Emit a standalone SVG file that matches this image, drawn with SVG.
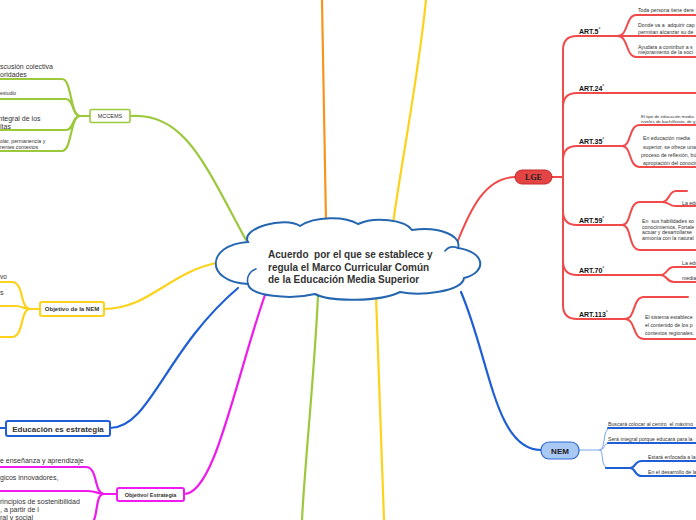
<svg xmlns="http://www.w3.org/2000/svg" width="696" height="520" viewBox="0 0 696 520">
<style>
text{font-family:"Liberation Sans",Arial,sans-serif;white-space:pre;fill:#333}
.c{fill:none;stroke-linecap:round;stroke-linejoin:round}
.r{stroke:#f04a4a;stroke-width:2}
.g{stroke:#9cc83c;stroke-width:2.2}
.y{stroke:#fdd21a;stroke-width:2.2}
.o{stroke:#f7941d;stroke-width:2.2}
.b{stroke:#1f5fd6;stroke-width:2.2}
.bt{stroke:#7aa7ec;stroke-width:1}
.m{stroke:#ee1aee;stroke-width:2.2}
.art{font-size:7px;font-weight:bold;fill:#111}
.deg{font-size:5px;font-weight:bold;fill:#111}
.s{font-size:5.2px}
.xs{font-size:4.4px}
.l7{font-size:7px}
</style>
<g id="connectors">
<path class="c o" d="M322,0 C323,80 325,160 326,222"/>
<path class="c y" d="M426,0 C418,80 400,170 393,224"/>
<path class="c r" d="M457,243 C470,210 485,177 516,177"/>
<path class="c g" d="M130,116 C185,112 205,165 246,240"/>
<path class="c y" d="M104,309 C150,309 170,270 222,262"/>
<path class="c b" d="M110,428 C150,428 165,350 238,288"/>
<path class="c m" d="M184,494 C215,494 235,380 266,292"/>
<path class="c g" d="M318,296 C314,380 305,460 302,520"/>
<path class="c y" d="M376,296 C379,380 382,460 384,520"/>
<path class="c b" d="M461,292 C490,360 495,450 541,450"/>
<!-- LGE tree -->
<path class="c r" d="M552,177 L563,177"/>
<path class="c r" d="M563,177 L563,50 Q563,36 577,36 L696,36"/>
<path class="c r" d="M618,36 C628,36 626,15 636,15 L696,15"/>
<path class="c r" d="M618,36 C628,36 626,57 636,57 L696,57"/>
<path class="c r" d="M563,177 L563,107 Q563,93 577,93 L696,93"/>
<path class="c r" d="M563,177 L563,160 Q563,146 577,146 L622,146"/>
<path class="c r" d="M622,146 C632,146 628,125 640,125 L696,125"/>
<path class="c r" d="M622,146 C632,146 628,167 640,167 L696,167"/>
<path class="c r" d="M563,177 L563,211 Q563,225 577,225 L622,225"/>
<path class="c r" d="M622,225 C632,225 628,202 640,202 L662,202"/>
<path class="c r" d="M662,202 C670,202 668,191 676,191 L687,191"/>
<path class="c r" d="M662,202 C670,202 668,206 676,206 L696,206"/>
<path class="c r" d="M622,225 C632,225 628,250 640,250 L696,250"/>
<path class="c r" d="M563,177 L563,261 Q563,275 577,275 L660,275"/>
<path class="c r" d="M660,275 C668,275 666,267 674,267 L696,267"/>
<path class="c r" d="M660,275 C668,275 666,282 674,282 L696,282"/>
<path class="c r" d="M563,177 L563,305 Q563,319 577,319 L625,319"/>
<path class="c r" d="M625,319 C636,319 632,297 644,297 L688,297"/>
<path class="c r" d="M625,319 C636,319 632,339 644,339 L696,339"/>
<!-- MCCEMS tree -->
<path class="c g" d="M90,116 L80,116"/>
<path class="c g" d="M80,116 C70,116 72,79 62,79 L0,79"/>
<path class="c g" d="M80,116 C72,116 74,99 66,99 L0,99"/>
<path class="c g" d="M80,116 C72,116 74,130 66,130 L0,130"/>
<path class="c g" d="M80,116 C70,116 72,151 62,151 L0,151"/>
<!-- Objetivo de la NEM tree -->
<path class="c y" d="M40,309 L30,309"/>
<path class="c y" d="M30,309 C20,309 24,282 12,282 L0,282"/>
<path class="c y" d="M30,309 C24,309 22,306 16,306 L0,306"/>
<path class="c y" d="M30,309 C20,309 24,337 12,337 L0,337"/>
<path class="c b" d="M0,428 L6,428"/>
<!-- Objetivo/Estrategia tree -->
<path class="c m" d="M117,494 L104,494"/>
<path class="c m" d="M104,494 C94,494 98,467 86,467 L0,467"/>
<path class="c m" d="M104,494 C98,494 96,491 88,491 L0,491"/>
<path class="c m" d="M104,494 C96,494 98,510 94,520"/>
<!-- NEM tree -->
<path class="c bt" d="M579,450 L600,450"/>
<path class="c bt" d="M600,450 C606,450 602,428 610,428"/>
<path class="c bt" d="M600,450 C606,450 602,443 610,443"/>
<path class="c bt" d="M600,450 C604,450 600,468 608,468"/>
<path class="c b" d="M608,428 L696,428"/>
<path class="c b" d="M608,443 L696,443"/>
<path class="c b" d="M606,468 L630,468"/>
<path class="c b" d="M630,468 C636,468 634,461 642,461 L696,461"/>
<path class="c b" d="M630,468 C636,468 634,476 642,476 L696,476"/>
</g>
<g id="center">
<path d="M248,242 C240,228 285,216 300,226 C315,216 345,216 358,224 C375,216 405,220 412,230 C440,226 462,236 458,248 C485,252 488,272 464,278 C462,292 420,296 400,292 C380,302 330,302 315,294 C290,300 250,296 248,284 C205,282 205,245 248,242 Z" fill="#fff" stroke="#2566b0" stroke-width="2"/>
<path d="M248,284 C246,277 250,271 256,269" fill="none" stroke="#2566b0" stroke-width="1.6" stroke-linecap="round"/>
<path d="M458,248 C453,246 448,247 445,251" fill="none" stroke="#2566b0" stroke-width="1.6" stroke-linecap="round"/>
<text x="268" y="258" font-size="10" font-weight="bold" fill="#4d4d4d">Acuerdo  por el que se establece y</text>
<text x="268" y="270.5" font-size="10" font-weight="bold" fill="#4d4d4d">regula el Marco Curricular Común</text>
<text x="268" y="283" font-size="10" font-weight="bold" fill="#4d4d4d">de la Educación Media Superior</text>
</g>
<g id="lge">
<rect x="515" y="170" width="37" height="14" rx="7" fill="#e44444" stroke="#c42a2a" stroke-width="1"/>
<text x="533.5" y="180" font-size="8" font-weight="bold" text-anchor="middle" style="fill:#222;font-family:'Liberation Serif',serif">LGE</text>
</g>
<g id="art5">
<text x="579" y="33.5" class="art">ART.5<tspan class="deg" dy="-3">°</tspan></text>
<text x="638" y="11.5" class="s">Toda persona tiene dere</text>
<text x="638" y="27" class="s">Donde va a  adquirir cap</text>
<text x="638" y="33.5" class="s">permitan alcanzar su de</text>
<text x="638" y="48.5" class="s">Ayudara a contribuir a s</text>
<text x="638" y="54" class="s">mejoramiento de la soci</text>
</g>
<g id="art24"><text x="579" y="90.5" class="art">ART.24<tspan class="deg" dy="-3">°</tspan></text></g>
<g id="art35">
<text x="579" y="143.5" class="art">ART.35<tspan class="deg" dy="-3">°</tspan></text>
<text x="641" y="118" class="xs">El tipo de educación media</text>
<text x="641" y="122.5" class="xs">niveles de bachillerato, de g</text>
<text x="643" y="140" class="s">En educación media</text>
<text x="643" y="148.5" class="s">superior, se ofrece una f</text>
<text x="641" y="156.5" class="s">proceso de reflexión, bús</text>
<text x="643" y="164.5" class="s">apropiación del conocim</text>
</g>
<g id="art59">
<text x="579" y="222.5" class="art">ART.59<tspan class="deg" dy="-3">°</tspan></text>
<text x="682" y="204.5" class="s">La edu</text>
<text x="642" y="223" class="s">En  sus habilidades so</text>
<text x="642" y="228.5" class="s">conocimientos, Fortale</text>
<text x="642" y="234" class="s">actuar y desarrollarse</text>
<text x="642" y="239.5" class="s">armonía con la natural</text>
</g>
<g id="art70">
<text x="579" y="272.5" class="art">ART.70<tspan class="deg" dy="-3">°</tspan></text>
<text x="682" y="265" class="s">La edu</text>
<text x="682" y="280" class="s">media</text>
</g>
<g id="art113">
<text x="579" y="316.5" class="art">ART.113<tspan class="deg" dy="-3">°</tspan></text>
<text x="645" y="319" class="s">El sistema establece</text>
<text x="645" y="327" class="s">el contenido de los p</text>
<text x="645" y="335" class="s">contextos regionales.</text>
</g>
<g id="nem">
<rect x="541" y="442" width="38" height="17" rx="8" fill="#a9c8f3" stroke="#2e6ad3" stroke-width="1.2"/>
<text x="560" y="453.5" font-size="8" font-weight="bold" text-anchor="middle" style="fill:#222">NEM</text>
<text x="608" y="426" class="s">Buscará colocar al centro  el máximo</text>
<text x="608" y="441" class="s">Será integral porque educará para la</text>
<text x="648" y="458.5" class="s">Estará enfocada a la</text>
<text x="648" y="473.5" class="s">En el desarrollo de las</text>
</g>
<g id="mccems">
<rect x="90" y="109.5" width="40" height="13" rx="2" fill="#fff" stroke="#9cc83c" stroke-width="1.6"/>
<text x="110" y="118" font-size="5.5" text-anchor="middle">MCCEMS</text>
<text x="0" y="68.5" class="l7">scusión colectiva</text>
<text x="0" y="76.5" class="l7">oridades</text>
<text x="0" y="95" font-size="5">estudio</text>
<text x="-1.5" y="120.5" class="l7">ntegral de los</text>
<text x="0" y="128.5" class="l7">itas</text>
<text x="0" y="142.5" class="s">olar, permanencia y</text>
<text x="0" y="149" class="s">rentes contextos</text>
</g>
<g id="objetivo-nem">
<rect x="40" y="302" width="64" height="14" rx="2" fill="#fff" stroke="#fdd21a" stroke-width="2"/>
<text x="72" y="311.2" font-size="6" font-weight="bold" text-anchor="middle">Objetivo de la NEM</text>
<text x="0" y="278.5" font-size="6.5">vo</text>
<text x="0" y="295" class="l7">s</text>
</g>
<g id="educacion">
<rect x="6" y="421" width="104" height="15" rx="2" fill="#fff" stroke="#1f5fd6" stroke-width="2"/>
<text x="58" y="431.5" font-size="8" font-weight="bold" text-anchor="middle">Educación es estrategia</text>
</g>
<g id="objetivo-estrategia">
<rect x="117" y="488" width="67" height="13" rx="2" fill="#fff" stroke="#ee1aee" stroke-width="2"/>
<text x="150.5" y="496.5" font-size="5.5" font-weight="bold" text-anchor="middle">Objetivo/ Estrategia</text>
<text x="0" y="462.5" class="l7">e enseñanza y aprendizaje</text>
<text x="0" y="479.5" class="l7">gicos innovadores,</text>
<text x="0" y="503.5" class="l7">rincipios de sostenibilidad</text>
<text x="0" y="511.5" class="l7">, a partir de l</text>
<text x="0" y="519.5" class="l7">ral y social</text>
</g>
</svg>
